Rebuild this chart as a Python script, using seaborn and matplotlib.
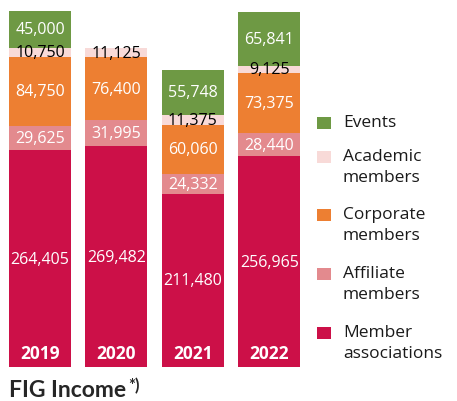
import matplotlib
matplotlib.use("Agg")
import matplotlib.pyplot as plt
import matplotlib.patches as mpatches
import numpy as np
import seaborn as sns

years = ["2019", "2020", "2021", "2022"]
member_associations = [264405, 269482, 211480, 256965]
affiliate_members = [29625, 31995, 24332, 28440]
corporate_members = [84750, 76400, 60060, 73375]
academic_members = [10750, 11125, 11375, 9125]
events = [45000, 0, 55748, 65841]

series = [
    ("Member\nassociations", member_associations, "#CC1048", "white"),
    ("Affiliate\nmembers", affiliate_members, "#E38A8E", "white"),
    ("Corporate\nmembers", corporate_members, "#ED7F32", "white"),
    ("Academic\nmembers", academic_members, "#F8DAD8", "black"),
    ("Events", events, "#6E9944", "white"),
]

sns.set_style("white")
plt.rcParams["font.family"] = ["Open Sans", "DejaVu Sans"]

W, H = 457, 402
fig = plt.figure(figsize=(W / 100, H / 100), dpi=100)
ax = fig.add_axes([0, 34 / H, 310 / W, 356 / H])

bottom = np.zeros(len(years))
for name, vals, color, tcolor in series:
    vals = np.array(vals, dtype=float)
    sns.barplot(x=years, y=vals, bottom=bottom, color=color, width=0.81,
                saturation=1, linewidth=0, ax=ax)
    for i, v in enumerate(vals):
        if v > 0:
            ax.text(i, bottom[i] + v / 2, f"{int(v):,}", ha="center",
                    va="center", color=tcolor, fontsize=11.5)
    bottom += vals

for i, y in enumerate(years):
    ax.text(i, 14 * 434530 / 356, y, ha="center", va="center",
            color="white", fontsize=12.5, fontweight="bold")

ax.set_xlim(-0.524, 3.534)
ax.set_ylim(0, 434530)
ax.axis("off")

# legend drawn by hand so that each swatch lines up with the first text line
legend_top = [124, 158, 216, 275, 334]
for (name, _, color, _), yc in zip(series[::-1], legend_top):
    fig.add_artist(mpatches.Rectangle((317 / W, 1 - (yc + 6) / H), 14 / W, 12 / H,
                                      transform=fig.transFigure, color=color, lw=0))
    fig.text(343 / W, 1 - (yc - 9) / H, name, fontsize=12.5, va="top", ha="left",
             linespacing=1.45, color="#1a1a1a")

fig.text(9 / W, 1 - 391 / H, "FIG Income", fontsize=16.5, fontweight="bold",
         va="center", ha="left", family=["Lato", "DejaVu Sans"])
fig.text(128 / W, 1 - 386 / H, "*)", fontsize=12, fontweight="bold",
         va="center", ha="left", family=["Lato", "DejaVu Sans"])

fig.savefig("out.png", dpi=100)
